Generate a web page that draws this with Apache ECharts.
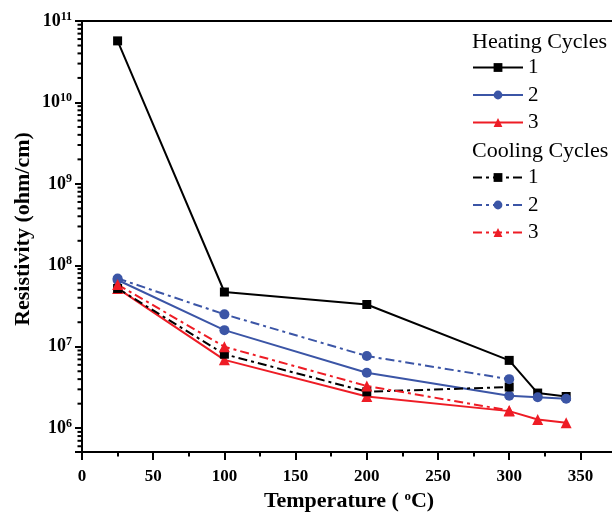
<!DOCTYPE html>
<html><head><meta charset="utf-8">
<script src="https://cdn.jsdelivr.net/npm/echarts@6/dist/echarts.min.js"></script>
<style>html,body{margin:0;padding:0;background:#fff}#c{width:612px;height:513px}</style>
</head><body><div id="c"></div>
<script>
// ---- data ----
const heatTemps = [25, 100, 200, 300, 320, 340];
const coolTemps = [25, 100, 200, 300];
const heat1 = [5.7e10, 4.7e7, 3.3e7, 6.8e6, 2.7e6, 2.45e6];
const heat2 = [6.6e7, 1.6e7, 4.8e6, 2.5e6, 2.4e6, 2.3e6];
const heat3 = [5.2e7, 6.9e6, 2.45e6, 1.62e6, 1.28e6, 1.17e6];
const cool1 = [5.2e7, 8.1e6, 2.8e6, 3.2e6];
const cool2 = [6.9e7, 2.5e7, 7.7e6, 4.0e6];
const cool3 = [5.8e7, 1.0e7, 3.3e6, 1.65e6];
const yMinorMultipliers = [2, 3, 4, 5, 6, 7, 8, 9];
const yDecadeExps = [5, 6, 7, 8, 9, 10];

const FONT = '"Liberation Serif", "Times New Roman", serif';
const BLACK = '#000000', BLUE = '#3b55a6', RED = '#ee1c25';
const TICK = '#000000';
const yMin = 5.1e5, yMax = 1e11;

const zip = (xs, ys) => xs.map((x, i) => [x, ys[i]]);
const minorVals = [];
yDecadeExps.forEach(e => yMinorMultipliers.forEach(k => {
  const v = k * Math.pow(10, e);
  if (v > yMin && v < yMax) minorVals.push(v);
}));

function mk(name, temps, vals, color, symbol, size, dashed) {
  return {
    name, type: 'line', data: zip(temps, vals),
    symbol, symbolSize: size,
    itemStyle: { color },
    lineStyle: { color, width: 2, type: dashed ? [9, 4, 3, 4] : 'solid' },
    z: 3
  };
}

const baseGraphic = [
  { id: 'hT', type: 'text', left: 472, top: 31, style: { text: 'Heating Cycles', fontFamily: FONT, fontSize: 22, fill: BLACK } },
  { id: 'cT', type: 'text', left: 472, top: 140, style: { text: 'Cooling Cycles', fontFamily: FONT, fontSize: 22, fill: BLACK } },
  { id: 'yT', type: 'text', x: 23, y: 229, rotation: Math.PI / 2,
    style: { text: 'Resistivity (ohm/cm)', fontFamily: FONT, fontWeight: 'bold', fontSize: 22, fill: BLACK, align: 'center', verticalAlign: 'middle' } }
];

const chart = echarts.init(document.getElementById('c'), null, { renderer: 'canvas' });
chart.setOption({
  animation: false,
  backgroundColor: '#fff',
  grid: { left: 82, top: 21, width: 534, height: 431, outerBoundsMode: 'none', containLabel: false,
          show: true, borderColor: BLACK, borderWidth: 2, backgroundColor: 'transparent' },
  xAxis: {
    type: 'value', min: 0, max: 375, interval: 50,
    axisLine: { lineStyle: { color: BLACK, width: 2 } },
    axisTick: { inside: false, length: 8, lineStyle: { color: BLACK, width: 2 } },
    minorTick: { show: true, splitNumber: 2, length: 4.5, lineStyle: { color: BLACK, width: 2 } },
    splitLine: { show: false },
    axisLabel: {
      margin: 16, color: BLACK, fontFamily: FONT, fontWeight: 'bold', fontSize: 17,
      formatter: v => (v % 50 === 0 ? String(v) : '')
    },
    name: '{a|Temperature ( }{s|o}{a|C)}',
    nameLocation: 'middle', nameGap: 37,
    nameTextStyle: {
      rich: {
        a: { fontFamily: FONT, fontWeight: 'bold', fontSize: 22, color: BLACK },
        s: { fontFamily: FONT, fontWeight: 'bold', fontSize: 13, color: BLACK, padding: [0, 0, 10, 0] }
      }
    }
  },
  yAxis: {
    type: 'log', logBase: 10, min: yMin, max: yMax,
    axisLine: { show: true, lineStyle: { color: BLACK, width: 2 } },
    axisTick: { show: true, inside: false, length: 7, lineStyle: { color: BLACK, width: 2 } },
    splitLine: { show: false },
    axisLabel: {
      margin: 10, color: BLACK,
      formatter: v => {
        const e = Math.log10(v);
        if (Math.abs(e - Math.round(e)) > 0.01) return '';
        return '{b|10}{s|' + Math.round(e) + '}';
      },
      rich: {
        b: { fontFamily: FONT, fontWeight: 'bold', fontSize: 18, color: BLACK },
        s: { fontFamily: FONT, fontWeight: 'bold', fontSize: 12, color: BLACK, padding: [0, 0, 9, 0] }
      }
    }
  },
  legend: [
    {
      data: ['H1', 'H2', 'H3'], orient: 'vertical', left: 472, top: 57,
      itemWidth: 50, itemHeight: 11, itemGap: 6.5, padding: 0,
      formatter: n => n.slice(1),
      textStyle: { fontFamily: FONT, fontSize: 21, lineHeight: 21, color: BLACK }
    },
    {
      data: ['C1', 'C2', 'C3'], orient: 'vertical', left: 472, top: 167,
      itemWidth: 50, itemHeight: 11, itemGap: 6.5, padding: 0,
      formatter: n => n.slice(1),
      textStyle: { fontFamily: FONT, fontSize: 21, lineHeight: 21, color: BLACK }
    }
  ],
  graphic: baseGraphic,
  series: [
    mk('H1', heatTemps, heat1, BLACK, 'rect', 9, false),
    mk('H2', heatTemps, heat2, BLUE, 'circle', 10, false),
    mk('H3', heatTemps, heat3, RED, 'triangle', 11, false),
    mk('C1', coolTemps, cool1, BLACK, 'rect', 9, true),
    mk('C2', coolTemps, cool2, BLUE, 'circle', 10, true),
    mk('C3', coolTemps, cool3, RED, 'triangle', 11, true)
  ]
});

// log-scale minor ticks (2..9 x 10^n) positioned through the chart's own y scale
const tickLines = minorVals.map((v, i) => {
  const p = chart.convertToPixel({ gridIndex: 0 }, [0, v]);
  return { id: 'mt' + i, type: 'rect', silent: true, z: 100,
    shape: { x: p[0] - 4.5, y: p[1] - 1, width: 5, height: 2 },
    style: { fill: TICK } };
});
chart.setOption({ graphic: baseGraphic.concat(tickLines) });
</script></body></html>
